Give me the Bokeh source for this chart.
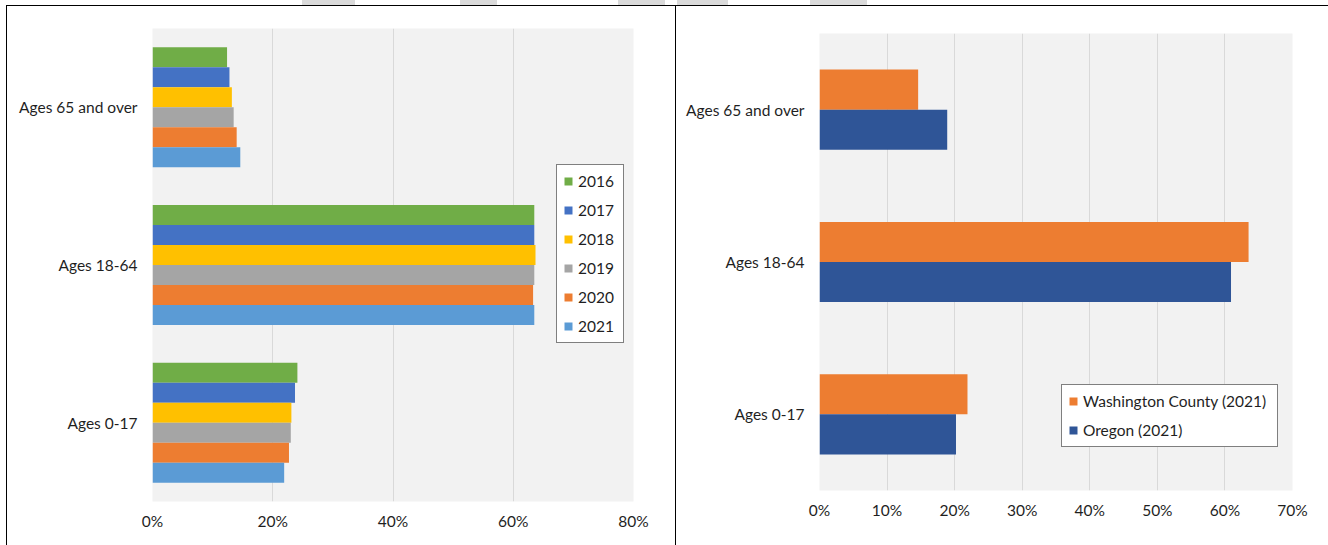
from bokeh.plotting import figure
from bokeh.layouts import row, column
from bokeh.models import (ColumnDataSource, FactorRange, FixedTicker, PrintfTickFormatter,
                          Legend, LegendItem)
from bokeh.transform import dodge
from bokeh.embed import file_html
from bokeh.resources import INLINE

# ---- data -------------------------------------------------------------
age_groups = ["Ages 0-17", "Ages 18-64", "Ages 65 and over"]

years = ["2016", "2017", "2018", "2019", "2020", "2021"]
share_2016 = [24.1, 63.5, 12.4]
share_2017 = [23.7, 63.5, 12.8]
share_2018 = [23.1, 63.7, 13.2]
share_2019 = [23.0, 63.5, 13.5]
share_2020 = [22.7, 63.3, 14.0]
share_2021 = [21.9, 63.5, 14.6]
year_colors = ["#70AD47", "#4472C4", "#FFC000", "#A5A5A5", "#ED7D31", "#5B9BD5"]
left_ticks = [0, 20, 40, 60, 80]

regions = ["Washington County (2021)", "Oregon (2021)"]
washington_2021 = [21.9, 63.5, 14.6]
oregon_2021 = [20.2, 60.9, 18.9]
region_colors = ["#ED7D31", "#2F5597"]
right_ticks = [0, 10, 20, 30, 40, 50, 60, 70]

FONT = "Lato"
TEXT = "#1F1F1F"
FS = "15.5px"
RULE = "1.5px solid black"


def style(p, ticks):
    p.background_fill_color = "#F2F2F2"
    p.border_fill_color = "white"
    p.outline_line_color = None
    p.xgrid.ticker = FixedTicker(ticks=ticks)
    p.xgrid.grid_line_color = "#D9D9D9"
    p.xgrid.grid_line_width = 1
    p.ygrid.grid_line_color = None
    p.xaxis.ticker = FixedTicker(ticks=ticks)
    p.xaxis.formatter = PrintfTickFormatter(format="%d%%")
    for ax in (p.xaxis, p.yaxis):
        ax.axis_line_color = None
        ax.major_tick_line_color = None
        ax.minor_tick_line_color = None
        ax.major_label_text_font = FONT
        ax.major_label_text_font_size = FS
        ax.major_label_text_color = TEXT
    p.xaxis.major_label_standoff = 4
    p.yaxis.major_label_standoff = 9


def style_legend(lg):
    lg.label_text_font = FONT
    lg.label_text_font_size = FS
    lg.label_text_color = TEXT
    lg.glyph_width = 10
    lg.glyph_height = 10
    lg.label_height = 20
    lg.label_standoff = 5
    lg.spacing = 9
    lg.padding = 6
    lg.border_line_color = "black"
    lg.border_line_width = 1.5
    lg.background_fill_color = "white"
    lg.background_fill_alpha = 1
    lg.margin = 0


# ---- left panel: population share by year -------------------------------
left_src = ColumnDataSource(dict(
    age=age_groups,
    y2016=share_2016, y2017=share_2017, y2018=share_2018,
    y2019=share_2019, y2020=share_2020, y2021=share_2021,
))

left = figure(width=670, height=540, y_range=FactorRange(*age_groups), x_range=(0, 80),
              output_backend="svg", toolbar_location=None,
              min_border_left=145, min_border_right=44, min_border_top=22, min_border_bottom=45,
              margin=(5, 0, 0, 6),
              styles={"border-top": RULE, "border-left": RULE, "border-right": RULE})
style(left, left_ticks)

bar_h = 0.1268
items = []
for i, (yr, col) in enumerate(zip(years, year_colors)):
    r = left.hbar(y=dodge("age", (2.5 - i) * bar_h, range=left.y_range), right="y" + yr, left=0,
                  height=bar_h, source=left_src, fill_color=col, line_color=None)
    items.append(LegendItem(label=yr, renderers=[r]))

lg_left = Legend(items=items, location=(404, 158), label_width=39)
style_legend(lg_left)
left.add_layout(lg_left)

# ---- right panel: county vs state --------------------------------------
right_src = ColumnDataSource(dict(age=age_groups, wc=washington_2021, orr=oregon_2021))

right = figure(width=652, height=540, y_range=FactorRange(*age_groups), x_range=(0, 70),
               output_backend="svg", toolbar_location=None,
               min_border_left=143, min_border_right=36, min_border_top=27, min_border_bottom=56,
               margin=(5, 0, 0, 0),
               styles={"border-top": RULE})
style(right, right_ticks)

rh = 0.263
r_wc = right.hbar(y=dodge("age", rh / 2, range=right.y_range), right="wc", left=0, height=rh,
                  source=right_src, fill_color=region_colors[0], line_color=None)
r_or = right.hbar(y=dodge("age", -rh / 2, range=right.y_range), right="orr", left=0, height=rh,
                  source=right_src, fill_color=region_colors[1], line_color=None)

lg_right = Legend(items=[LegendItem(label=regions[0], renderers=[r_wc]),
                         LegendItem(label=regions[1], renderers=[r_or])],
                  location=(242, 43), label_width=188)
style_legend(lg_right)
right.add_layout(lg_right)

# faint grey strokes showing in the strip above the page rule
streaks = [(302, 53), (460, 37), (618, 47), (677, 51), (810, 57)]
bg = ", ".join(f"linear-gradient(#DADADA, #DADADA) {x}px 0px / {w}px 5px no-repeat"
               for x, w in streaks)

layout = row(column(left), column(right), spacing=0, styles={"background": bg})
open("out.html", "w").write(file_html(layout, INLINE))
